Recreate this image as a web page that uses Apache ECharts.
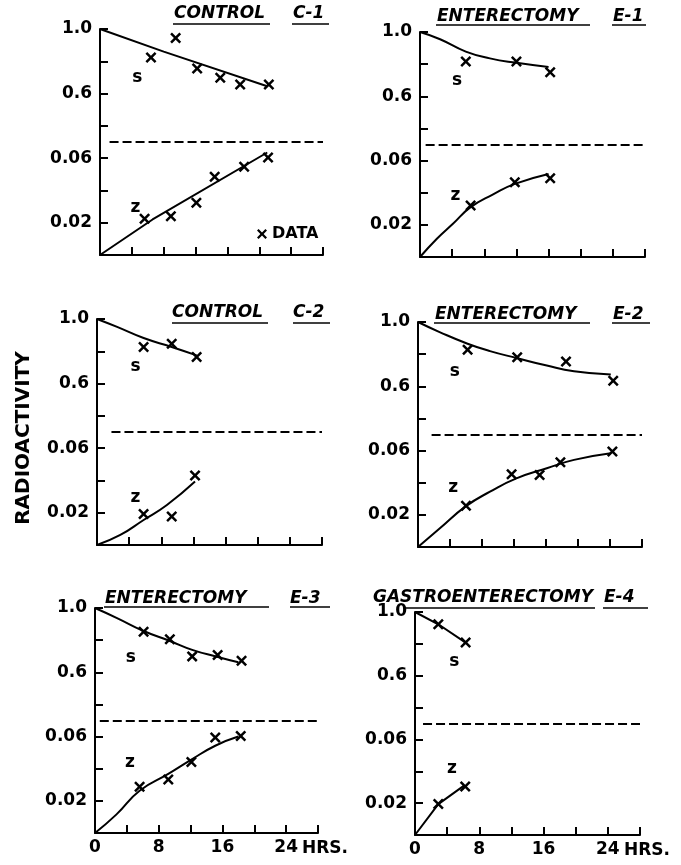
<!DOCTYPE html>
<html><head><meta charset="utf-8">
<script src="https://cdn.jsdelivr.net/npm/echarts/dist/echarts.min.js"></script>
<style>html,body{margin:0;padding:0;background:#fff}#main{width:681px;height:865px}</style>
</head><body><div id="main"></div>
<script>
// ---------- data ----------
// hours vs. relative radioactivity; s = upper curves, z = lower curves
const hourLabels = [0, 8, 16, 24];
const sTicks = [0.4, 0.6, 0.8, 1.0];
const sLabels = [0.6, 1.0];
const zTicks = [0.02, 0.04, 0.06];
const zLabels = [0.02, 0.06];

const c1S    = [[6.4,0.823],[9.5,0.944],[12.2,0.756],[15.1,0.698],[17.6,0.656],[21.2,0.656]];
const c1SFit = [[0,1.0],[8,0.86],[21,0.645]];
const c1Z    = [[5.6,0.0225],[8.9,0.024],[12.1,0.0323],[14.4,0.0485],[18.1,0.0547],[21.1,0.0604]];
const c1ZFit = [[0,0],[6.6,0.022],[21,0.0635]];

const e1S    = [[5.7,0.817],[12.0,0.817],[16.2,0.75]];
const e1SFit = [[0,1.0],[2.5,0.955],[5.7,0.878],[8.7,0.836],[12.0,0.808],[16.0,0.782]];
const e1Z    = [[6.3,0.032],[11.8,0.0465],[16.2,0.049]];
const e1ZFit = [[0,0],[2.1,0.0114],[4.1,0.0207],[6.3,0.031],[9.1,0.039],[11.8,0.0455],[16.0,0.0517]];

const c2S    = [[5.8,0.827],[9.3,0.847],[12.4,0.765]];
const c2SFit = [[0,1.0],[2.5,0.951],[5.8,0.882],[9.3,0.827],[12.4,0.775]];
const c2Z    = [[5.8,0.0192],[9.3,0.0176],[12.2,0.043]];
const c2ZFit = [[0,0],[2.9,0.0062],[5.8,0.0155],[8.7,0.0248],[12.2,0.0393]];

const e2S    = [[6.2,0.827],[12.4,0.781],[18.5,0.754],[24.4,0.635]];
const e2SFit = [[0,1.0],[2.7,0.9375],[6.2,0.865],[9.0,0.819],[12.4,0.775],[16.1,0.729],[19.5,0.694],[24.1,0.673]];
const e2Z    = [[6.0,0.0256],[11.7,0.0452],[15.2,0.0448],[17.8,0.0527],[24.3,0.0594]];
const e2ZFit = [[0,0],[2.7,0.0115],[6.0,0.0254],[9.0,0.0344],[12.3,0.0427],[16.1,0.049],[19.5,0.0542],[24.1,0.0583]];

const e3S    = [[6.1,0.852],[9.4,0.805],[12.2,0.699],[15.4,0.707],[18.4,0.672]];
const e3SFit = [[0,1.0],[2.7,0.939],[6.1,0.857],[9.4,0.795],[12.3,0.738],[15.3,0.697],[18.0,0.662]];
const e3Z    = [[5.6,0.0288],[9.2,0.0333],[12.1,0.0442],[15.1,0.0594],[18.3,0.0604]];
const e3ZFit = [[0,0],[2.7,0.0116],[5.6,0.0263],[9.2,0.0368],[12.1,0.0457],[15.1,0.0543],[18.0,0.06]];

const e4S    = [[2.9,0.923],[6.3,0.808]];
const e4SFit = [[0,1.0],[2.9,0.923],[6.3,0.808]];
const e4Z    = [[2.9,0.0194],[6.25,0.0305]];
const e4ZFit = [[0,0],[2.9,0.0194],[6.1,0.031]];

const panelNames = ['CONTROL','ENTERECTOMY','CONTROL','ENTERECTOMY','ENTERECTOMY','GASTROENTERECTOMY'];
const panelCodes = ['C-1','E-1','C-2','E-2','E-3','E-4'];
const sSeries = [c1S, e1S, c2S, e2S, e3S, e4S];
const sFits   = [c1SFit, e1SFit, c2SFit, e2SFit, e3SFit, e4SFit];
const zSeries = [c1Z, e1Z, c2Z, e2Z, e3Z, e4Z];
const zFits   = [c1ZFit, e1ZFit, c2ZFit, e2ZFit, e3ZFit, e4ZFit];

// ---------- layout / style ----------
const FONT = '"DejaVu Sans", sans-serif';
const INK = '#000';
const XMARK = 'path://M0,1.6L1.6,0L5,3.4L8.4,0L10,1.6L6.6,5L10,8.4L8.4,10L5,6.6L1.6,10L0,8.4L3.4,5Z';
const layout = [
  {L:100,R:323,T:29, B:255, nameX:174, codeX:293, tY:5,   ul:[[173,270],[292,329]], ulY:24,  dash:1.2, curved:false, sAt:[4.7,0.70],  zAt:[4.45,0.0293]},
  {L:420,R:645,T:32, B:257, nameX:437, codeX:613, tY:8,   ul:[[436,590],[612,646]], ulY:25,  dash:0.7, curved:true,  sAt:[4.6,0.698], zAt:[4.4,0.0383]},
  {L:97, R:322,T:319,B:545, nameX:172, codeX:293, tY:304, ul:[[172,268],[293,330]], ulY:323, dash:1.8, curved:true,  sAt:[4.8,0.707], zAt:[4.8,0.0296]},
  {L:418,R:642,T:322,B:547, nameX:435, codeX:613, tY:306, ul:[[434,590],[612,650]], ulY:323, dash:1.7, curved:true,  sAt:[4.6,0.694], zAt:[4.4,0.0371]},
  {L:95, R:318,T:608,B:833, nameX:105, codeX:290, tY:590, ul:[[104,269],[290,330]], ulY:607, dash:0.6, curved:true,  sAt:[4.5,0.689], zAt:[4.4,0.0436]},
  {L:415,R:640,T:612,B:835, nameX:373, codeX:604, tY:589, ul:[[405,595],[603,648]], ulY:608, dash:1.0, curved:false, sAt:[4.9,0.688], zAt:[4.6,0.042]}
];

const txt = (size, extra) => Object.assign({color:INK, fontFamily:FONT, fontWeight:'bold', fontSize:size}, extra||{});
const lineSty = {color:INK, width:2};

const grid=[], xAxis=[], yAxis=[], series=[], title=[], graphic=[];

layout.forEach((p,i)=>{
  const h=(p.B-p.T)/2, w=p.R-p.L;
  const bottomRow = i>=4;
  grid.push({left:p.L, top:p.T, width:w, height:h});
  grid.push({left:p.L, top:p.T+h, width:w, height:h});

  xAxis.push({gridIndex:2*i, type:'value', min:0, max:28, interval:4, show:false});
  xAxis.push({gridIndex:2*i+1, type:'value', min:0, max:28, interval:4,
    axisLine:{show:true, onZero:false, lineStyle:lineSty},
    axisTick:{show:true, inside:true, length:8, lineStyle:lineSty},
    splitLine:{show:false},
    axisLabel: bottomRow ? Object.assign({show:true, customValues:hourLabels, margin:6}, txt(17)) : {show:false},
    name: bottomRow ? 'HRS.' : '', nameLocation:'end', nameGap:-16,
    nameTextStyle: txt(17, {align:'left', verticalAlign:'top', padding:[7,0,0,0]})
  });

  yAxis.push({gridIndex:2*i, type:'value', min:0.3, max:1.0, splitLine:{show:false},
    axisLine:{show:true, onZero:false, lineStyle:lineSty},
    axisTick:{show:true, inside:true, length:8, customValues:sTicks, lineStyle:lineSty},
    axisLabel:Object.assign({show:true, customValues:sLabels, margin:8, formatter:v=>v.toFixed(1)}, txt(17))
  });
  yAxis.push({gridIndex:2*i+1, type:'value', min:0, max:0.07, splitLine:{show:false},
    axisLine:{show:true, onZero:false, lineStyle:lineSty},
    axisTick:{show:true, inside:true, length:8, customValues:zTicks, lineStyle:lineSty},
    axisLabel:Object.assign({show:true, customValues:zLabels, margin:8, formatter:v=>v.toFixed(2)}, txt(17))
  });

  const lineBase = {type:'line', symbol:'none', showSymbol:false, clip:false, silent:true,
    lineStyle:lineSty, smooth:p.curved?0.5:false, animation:false};
  series.push(Object.assign({}, lineBase, {name:panelCodes[i]+' s fit', xAxisIndex:2*i, yAxisIndex:2*i, data:sFits[i]}));
  series.push(Object.assign({}, lineBase, {name:panelCodes[i]+' z fit', xAxisIndex:2*i+1, yAxisIndex:2*i+1, data:zFits[i],
    markLine:{silent:true, symbol:['none','none'], label:{show:false}, animation:false,
      lineStyle:{color:INK, width:2, type:[9,4]},
      data:[[{coord:[p.dash,0.07]},{coord:[28,0.07]}]]}}));
  const scat = {type:'scatter', name:'DATA', symbol:XMARK, symbolSize:11, clip:false, silent:true,
    itemStyle:{color:INK, opacity:1}, animation:false};
  series.push(Object.assign({}, scat, {xAxisIndex:2*i, yAxisIndex:2*i, data:sSeries[i]}));
  series.push(Object.assign({}, scat, {xAxisIndex:2*i+1, yAxisIndex:2*i+1, data:zSeries[i]}));
  const lab = (t)=>({type:'scatter', name:'label-'+t, symbolSize:1, silent:true, animation:false,
    itemStyle:{color:'rgba(255,255,255,0)', opacity:1},
    label:Object.assign({show:true, position:'inside', formatter:t, opacity:1}, txt(17))});
  series.push(Object.assign(lab('s'), {xAxisIndex:2*i, yAxisIndex:2*i, data:[p.sAt]}));
  series.push(Object.assign(lab('z'), {xAxisIndex:2*i+1, yAxisIndex:2*i+1, data:[p.zAt]}));

  title.push({text:panelNames[i], left:p.nameX, top:p.tY, padding:0, textStyle:txt(17,{fontStyle:'italic'})});
  title.push({text:panelCodes[i], left:p.codeX, top:p.tY, padding:0, textStyle:txt(17,{fontStyle:'italic'})});
  p.ul.forEach(u=>graphic.push({type:'line', silent:true, shape:{x1:u[0],y1:p.ulY,x2:u[1],y2:p.ulY}, style:{stroke:INK, lineWidth:1.6}}));
});

graphic.push({type:'text', x:24, y:438, rotation:Math.PI/2, silent:true,
  style:{text:'RADIOACTIVITY', fill:INK, fontFamily:FONT, fontWeight:'bold', fontSize:20, textAlign:'center', textVerticalAlign:'middle'}});

const chart = echarts.init(document.getElementById('main'), null, {renderer:'canvas'});
chart.setOption({
  backgroundColor:'#fff',
  animation:false,
  title, grid, xAxis, yAxis, series, graphic,
  legend:{data:['DATA'], left:257, top:226, padding:0, icon:XMARK, itemWidth:10, itemHeight:10,
    selectedMode:false, itemStyle:{color:INK, opacity:1}, textStyle:txt(16)}
});
</script></body></html>
